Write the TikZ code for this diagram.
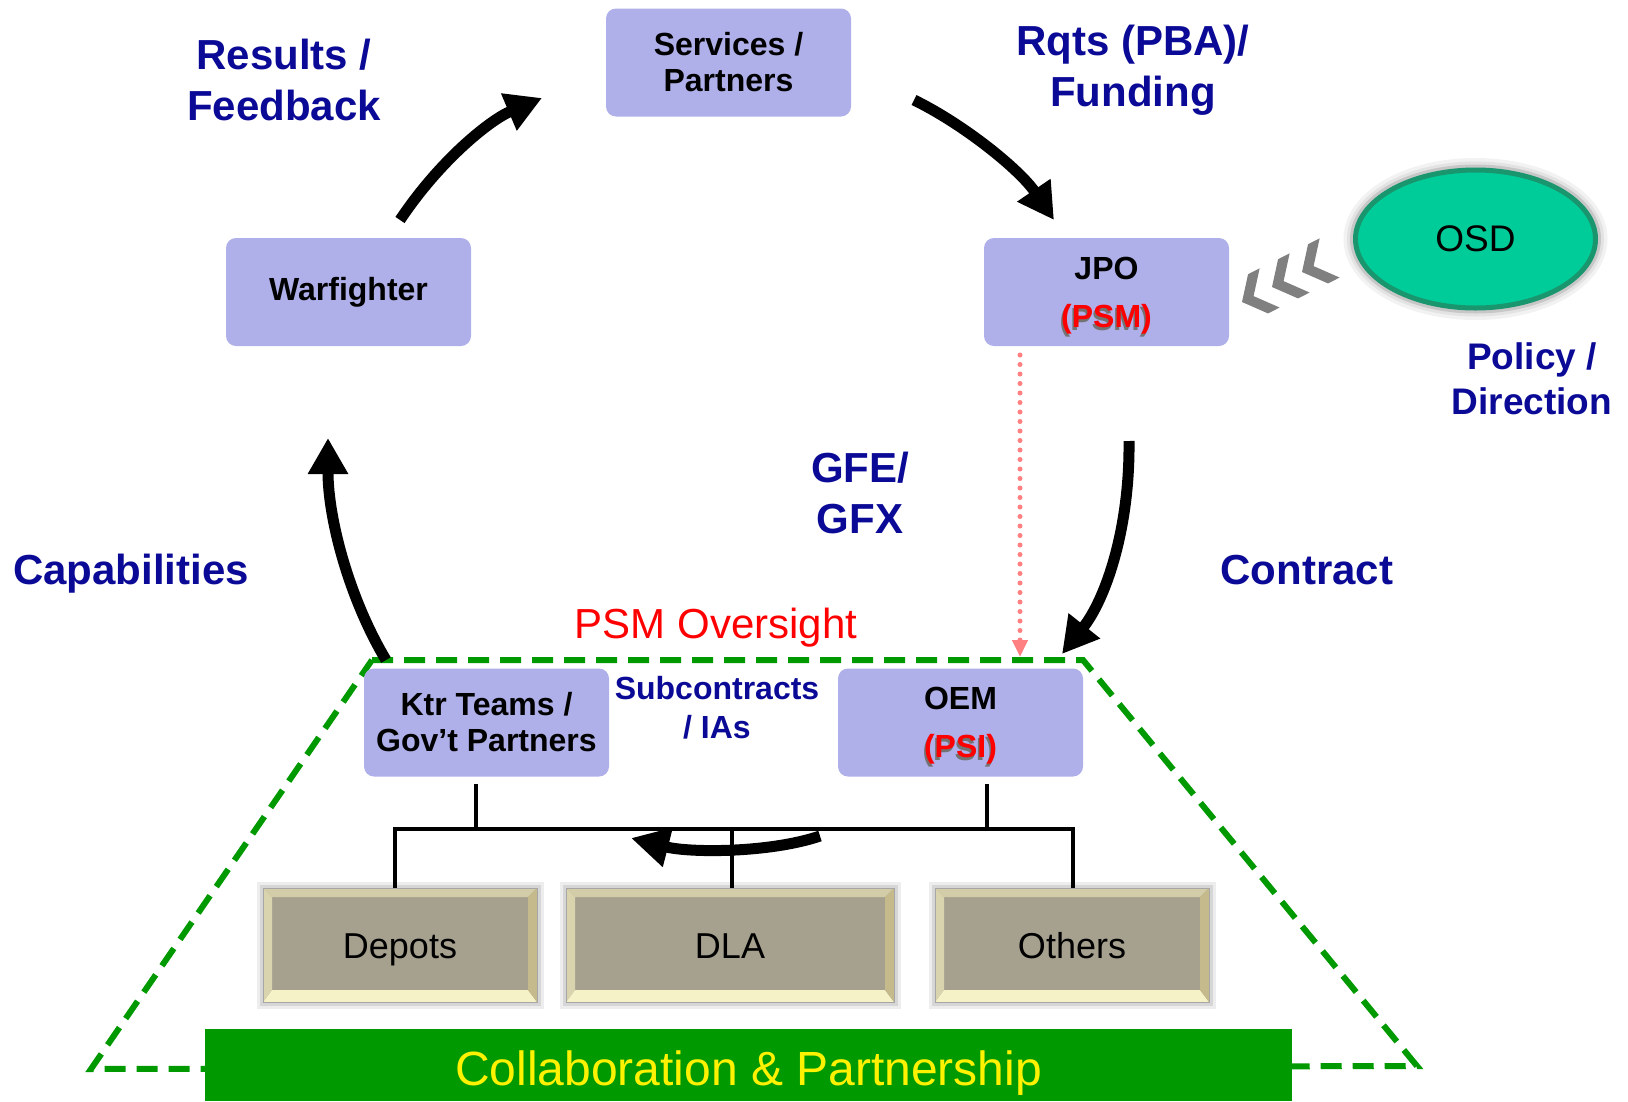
\documentclass[tikz,border=0pt]{standalone}
\usepackage{fontspec}
\setmainfont{Liberation Sans}
\usetikzlibrary{arrows.meta,shapes.geometric,calc}

\definecolor{lavfill}{RGB}{175,175,233}
\definecolor{navytxt}{RGB}{10,10,150}
\definecolor{teamgreen}{RGB}{0,153,0}
\definecolor{osdfill}{RGB}{0,204,153}
\definecolor{osdline}{RGB}{25,150,110}
\definecolor{khaki}{RGB}{166,161,143}
\definecolor{bevtop}{RGB}{210,204,168}
\definecolor{bevbot}{RGB}{246,242,200}
\definecolor{bevleft}{RGB}{218,212,174}
\definecolor{bevright}{RGB}{196,186,140}
\definecolor{chevgray}{RGB}{128,128,128}
\definecolor{pinkdot}{RGB}{255,128,128}

% red role tag with a dark drop shadow
\newcommand\roletag[1]{\smash{\rlap{\kern-1.5pt\raisebox{-3pt}{\textcolor{black!55}{#1}}}\textcolor{red}{#1}}}

\tikzset{
  lavbox/.style={fill=lavfill, rounded corners=10pt, minimum width=245pt,
    minimum height=108pt, inner sep=0pt, align=center,
    font=\fontsize{32}{36}\selectfont\bfseries},
  bevbox/.style={fill=khaki, draw=black!35, line width=0.8pt,
    preaction={draw=black!7, line width=13pt},
    preaction={draw=black!16, line width=7pt},
    minimum height=114pt, inner sep=0pt, text height=26pt, text depth=0pt,
    font=\fontsize{36}{40}\selectfont,
    path picture={
      \coordinate (bvA) at (path picture bounding box.north west);
      \coordinate (bvB) at (path picture bounding box.north east);
      \coordinate (bvC) at (path picture bounding box.south east);
      \coordinate (bvD) at (path picture bounding box.south west);
      \fill[bevtop] (bvA) -- (bvB) -- ($(bvB)+(-9,9)$) -- ($(bvA)+(9,9)$) -- cycle;
      \fill[bevbot] (bvD) -- (bvC) -- ($(bvC)+(-9,-12)$) -- ($(bvD)+(9,-12)$) -- cycle;
      \fill[bevleft] (bvA) -- (bvD) -- ($(bvD)+(9,-12)$) -- ($(bvA)+(9,9)$) -- cycle;
      \fill[bevright] (bvB) -- (bvC) -- ($(bvC)+(-9,-12)$) -- ($(bvB)+(-9,9)$) -- cycle;
    }},
  flowarrow/.style={line width=11pt, -{Triangle[length=36pt,width=38pt]}},
  tree/.style={line width=4pt},
  biglabel/.style={text=navytxt, align=center, inner sep=0pt,
    font=\fontsize{42}{51}\selectfont\bfseries},
  partnerline/.style={teamgreen, line width=6pt, dash pattern=on 21pt off 11pt},
  chev/.pic={\fill[chevgray] (0,0) -- (18,-22) -- (31,-22) -- (13,0) -- (31,22) -- (18,22) -- cycle;}
}

\begin{document}
\begin{tikzpicture}[x=1pt,y=-1pt]
\useasboundingbox (0,0) rectangle (1628,1101);

% partnership boundary
\coordinate (tzTL) at (372,660);
\coordinate (tzTR) at (1083,660);
\coordinate (tzBR) at (1417,1066);
\coordinate (tzBL) at (91,1069);
\draw[partnerline] (tzTL) -- (tzTR) -- (tzBR) -- (tzBL) -- cycle;

% collaboration bar
\node[fill=teamgreen, minimum width=1087pt, minimum height=72pt, inner sep=0pt,
  text=yellow, font=\fontsize{48}{52}\selectfont] (collab) at (748.5,1065)
  {\smash{\raisebox{-20pt}{Collaboration \& Partnership}}};

% organisation boxes
\node[lavbox] (svc) at (728.5,62.5) {Services /\\Partners};
\node[lavbox] (war) at (348.5,292) {Warfighter};
\node[lavbox] (jpo) at (1106.5,292) {JPO\\[12pt]\roletag{(PSM)}};
\node[lavbox] (ktr) at (486.5,722.5) {Ktr Teams /\\Gov’t Partners};
\node[lavbox] (oem) at (960.5,722.5) {OEM\\[12pt]\roletag{(PSI)}};

% OSD
\node[ellipse, minimum width=240pt, minimum height=138pt, inner sep=0pt,
  fill=osdfill, draw=osdline, line width=5pt,
  preaction={draw=black!5, line width=24pt},
  preaction={draw=black!11, line width=17pt},
  preaction={draw=black!22, line width=11pt},
  font=\fontsize{37}{40}\selectfont] (osd) at (1475.5,239) {OSD};

% policy chevrons
\pic[rotate=27] (chevA) at (1242,302) {chev};
\pic[rotate=27] (chevB) at (1272,287) {chev};
\pic[rotate=27] (chevC) at (1302,272) {chev};

% support providers
\node[bevbox, minimum width=274pt] (depots) at (400,945) {Depots};
\node[bevbox, minimum width=328pt] (dla) at (730,945) {DLA};
\node[bevbox, minimum width=274pt] (others) at (1072,945) {Others};

% tree of subcontracts
\coordinate (ktrStem) at (476,784);
\coordinate (ktrBus) at (476,829);
\coordinate (oemStem) at (987,784);
\coordinate (oemBus) at (987,829);
\coordinate (busL) at (395,829);
\coordinate (busM) at (732,829);
\coordinate (busR) at (1073,829);
\draw[tree] (ktrStem) -- (ktrBus);
\draw[tree] (oemStem) -- (oemBus);
\draw[tree] (busL |- depots.north) -- (busL) -- (busR) -- (busR |- others.north);
\draw[tree] (busM) -- (busM |- dla.north);

% main cycle arrows
\coordinate (cyA) at (400,220);
\coordinate (cyB) at (542,98);
\coordinate (cyC) at (914,100);
\coordinate (cyD) at (1054,220);
\coordinate (cyE) at (1129,441);
\coordinate (cyF) at (1062,654);
\coordinate (cyG) at (386,660);
\coordinate (cyH) at (328,438);
\draw[flowarrow] (cyA) .. controls (440,160) and (490,120) .. (cyB);
\draw[flowarrow] (cyC) .. controls (965,125) and (1020,170) .. (cyD);
\draw[flowarrow] (cyE) .. controls (1130,530) and (1105,600) .. (cyF);
\draw[flowarrow] (cyG) .. controls (350,600) and (328,520) .. (cyH);

% flow from OEM side to Ktr side
\coordinate (swS) at (820,836);
\coordinate (swE) at (631,838);
\draw[line width=11pt, -{Triangle[length=38pt,width=38pt]}]
  (swS) .. controls (770,853) and (690,853) .. (swE);

% PSM oversight
\coordinate (psmTop) at (1020,355);
\coordinate (psmBot) at (1020,657);
\draw[pinkdot, line width=5pt, line cap=round, dash pattern=on 0pt off 9.5pt,
  -{Triangle[length=17pt,width=15pt]}] (psmTop) -- (psmBot);

% labels
\node[biglabel] (lblResults) at (284,80) {Results /\\Feedback};
\node[biglabel] (lblRqts) at (1133,70) {Rqts (PBA)/\\Funding};
\node[biglabel, font=\fontsize{37}{45}\selectfont\bfseries] (lblPolicy) at (1532,379) {Policy /\\Direction};
\node[biglabel] (lblGfe) at (860,493) {GFE/\\GFX};
\node[biglabel] (lblCap) at (131,574) {Capabilities};
\node[biglabel] (lblContract) at (1307,570) {Contract};
\node[text=red, inner sep=0pt, font=\fontsize{42}{48}\selectfont] (lblPsm) at (716,628) {PSM Oversight};
\node[biglabel, font=\fontsize{32}{39}\selectfont\bfseries] (lblSub) at (717,708) {Subcontracts\\/ IAs};

\end{tikzpicture}
\end{document}
